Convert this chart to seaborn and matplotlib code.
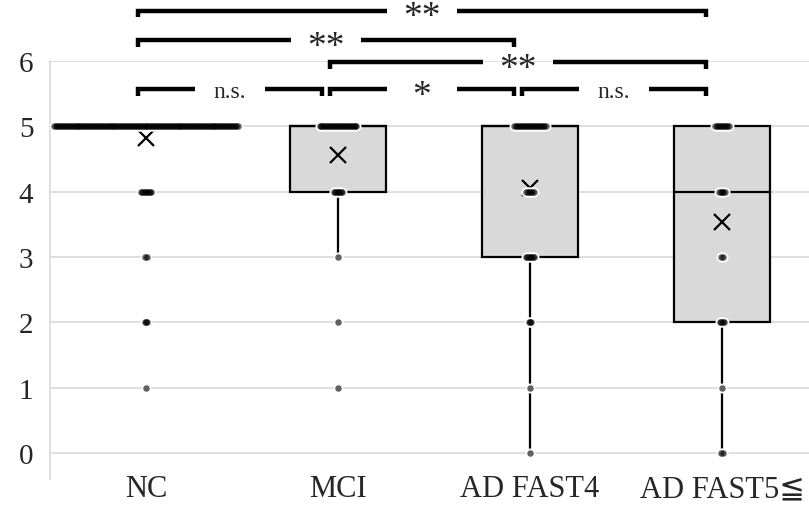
import numpy as np
import pandas as pd
import matplotlib
matplotlib.use("Agg")
import matplotlib.pyplot as plt
import seaborn as sns

# ---------------- data ----------------
groups = ["NC", "MCI", "AD FAST4", "AD FAST5≦"]
scores = [5, 4, 3, 2, 1, 0]
nc_counts = [125, 8, 2, 3, 1, 0]
mci_counts = [26, 7, 1, 1, 1, 0]
fast4_counts = [22, 6, 7, 3, 1, 1]
fast5_counts = [10, 5, 2, 4, 1, 2]
y_ticks = [0, 1, 2, 3, 4, 5, 6]

sig_pairs = [(0, 1), (1, 2), (2, 3), (1, 3), (0, 2), (0, 3)]
sig_labels = ["n.s.", "*", "n.s.", "**", "**", "**"]
sig_levels = [5.57, 5.57, 5.57, 5.98, 6.32, 6.77]

all_counts = [nc_counts, mci_counts, fast4_counts, fast5_counts]
rows = []
for g, cnts in zip(groups, all_counts):
    for s, n in zip(scores, cnts):
        rows += [(g, s)] * n
df = pd.DataFrame(rows, columns=["group", "score"])

# ---------------- style ----------------
sns.set_style("white")
serif = ["Liberation Serif", "DejaVu Serif", "DejaVu Sans", "Noto Sans CJK JP"]
plt.rcParams["font.family"] = serif

fig = plt.figure(figsize=(8.09, 5.06), dpi=100)
ax = fig.add_axes([50 / 809, 1 - 480 / 506, 768 / 809, (480 - 62) / 506])

sns.boxplot(
    data=df, x="group", y="score", order=groups, ax=ax,
    width=0.5, color="#d9d9d9", saturation=1, linecolor="black", linewidth=1.6,
    whis=1.5, showfliers=False, showcaps=False, showmeans=True,
    meanprops=dict(marker="x", markeredgecolor="black", markerfacecolor="black",
                   markersize=11, markeredgewidth=1.6),
)

# inner points, spread sideways by their multiplicity
dx = 0.0077
px, py = [], []
for i, cnts in enumerate(all_counts):
    for s, n in zip(scores, cnts):
        if n == 0:
            continue
        off = (np.arange(n) - (n - 1) / 2) * dx
        px.extend(i + off)
        py.extend([s] * n)
ax.scatter(px, py, s=52, color="white", linewidths=0, zorder=5)
ax.scatter(px, py, s=22, color="black", alpha=0.62, linewidths=0, zorder=6)

# axes look
ax.set_xlim(-0.5, 3.5)
ax.set_ylim(-0.40, 6.0)
ax.set_yticks(y_ticks)
ax.yaxis.grid(True, color="#d9d9d9", linewidth=1.2)
ax.set_axisbelow(True)
for sp in ["top", "right", "bottom"]:
    ax.spines[sp].set_visible(False)
ax.spines["left"].set_color("#d9d9d9")
ax.spines["left"].set_linewidth(1.2)
ax.tick_params(axis="y", length=0, pad=12, labelsize=21)
ax.tick_params(axis="x", length=0, pad=-3.6, labelsize=22)
ax.set_xlabel("")
ax.set_ylabel("")

# significance brackets
tick = 0.10
for (i, j), lab, lv in zip(sig_pairs, sig_labels, sig_levels):
    x0 = i - 0.04
    x1 = j - 0.085
    mid = (x0 + x1) / 2
    g = 0.18
    kw = dict(color="black", lw=3.2, clip_on=False, solid_joinstyle="miter",
              solid_capstyle="butt", zorder=7)
    ax.plot([x0, x0, mid - g], [lv - tick, lv, lv], **kw)
    ax.plot([mid + g, x1, x1], [lv, lv, lv - tick], **kw)
    if lab == "n.s.":
        ax.text(mid, lv - 0.03, lab, ha="center", va="center", fontsize=17,
                family=serif, clip_on=False)
    else:
        ax.text(mid, lv - 0.10, lab, ha="center", va="center", fontsize=27,
                family=serif, clip_on=False)

fig.savefig("out.png", dpi=100)
